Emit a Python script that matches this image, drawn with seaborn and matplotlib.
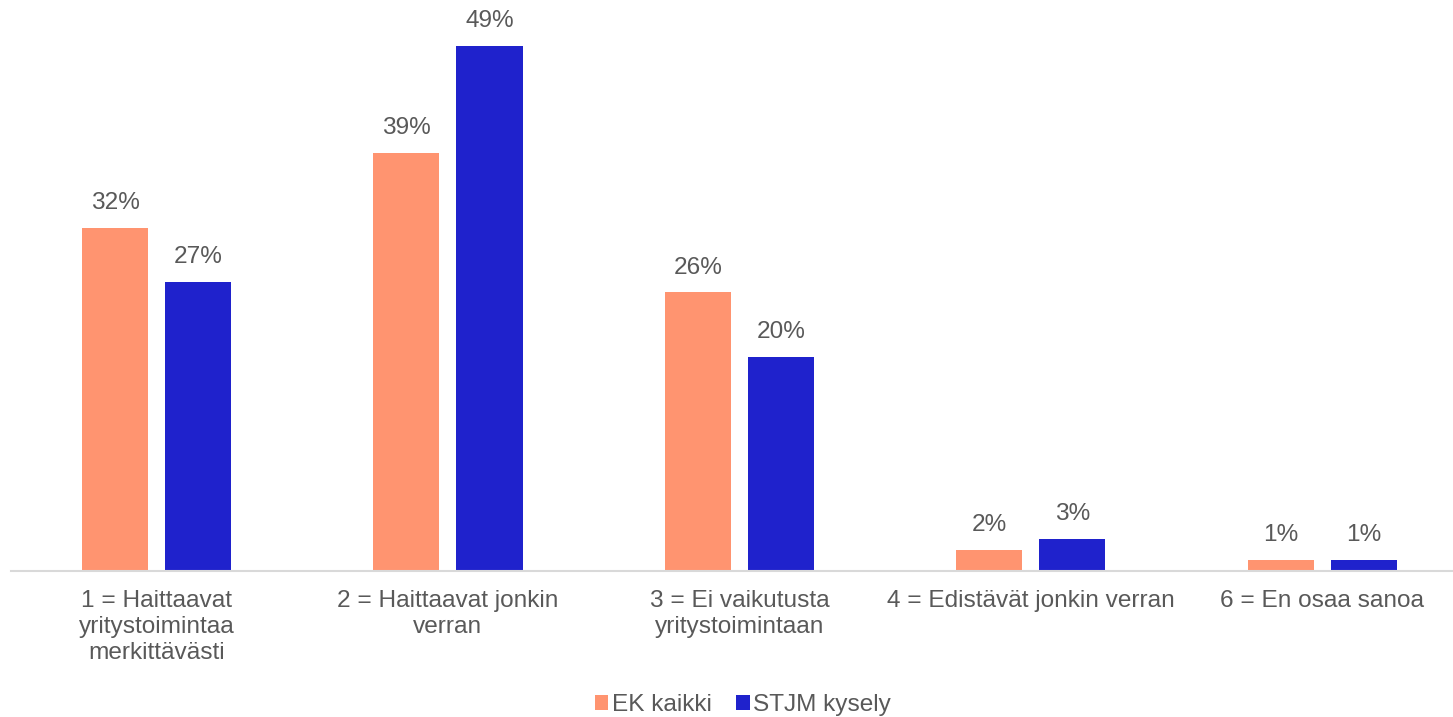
import pandas as pd
import numpy as np
import matplotlib.pyplot as plt
import seaborn as sns

# Data
categories = ['1 = Haittaavat\nyritystoimintaa\nmerkittävästi',
              '2 = Haittaavat jonkin\nverran',
              '3 = Ei vaikutusta\nyritystoimintaan',
              '4 = Edistävät jonkin verran',
              '6 = En osaa sanoa']
ek_kaikki = [32, 39, 26, 2, 1]
stjm_kysely = [27, 49, 20, 3, 1]
series = ['EK kaikki', 'STJM kysely']

df = pd.DataFrame({
    'category': categories * 2,
    'value': ek_kaikki + stjm_kysely,
    'series': [series[0]] * len(categories) + [series[1]] * len(categories),
})

sns.set_theme(style='white')
plt.rcParams['font.family'] = ['Liberation Sans', 'DejaVu Sans']
text_color = '#595959'
fs = 17.6

fig = plt.figure(figsize=(14.53, 7.17), dpi=100)
ax = fig.add_axes([0.0076, 0.2036, 0.9924, 0.7964])

sns.barplot(data=df, x='category', y='value', hue='series',
            palette=['#FF9470', '#1F22CC'], saturation=1, width=0.57, gap=0.205,
            linewidth=0, ax=ax, legend=True)

for c in ax.containers:
    ax.bar_label(c, labels=[f'{v:.0f}%' for v in c.datavalues],
                 padding=10, fontsize=fs, color=text_color)

ax.set_ylim(0, 53.3)
ax.set_xlim(-0.499, 4.448)
ax.set_xlabel('')
ax.set_ylabel('')
ax.set_yticks([])
for s in ['top', 'right', 'left']:
    ax.spines[s].set_visible(False)
ax.spines['bottom'].set_color('#d9d9d9')
ax.spines['bottom'].set_linewidth(1.5)
ax.tick_params(axis='x', length=0, pad=14, labelsize=fs, labelcolor=text_color)
for lbl in ax.get_xticklabels():
    lbl.set_linespacing(1.22)
    lbl.set_verticalalignment('top')

handles, labels = ax.get_legend_handles_labels()
ax.get_legend().remove()
fig.legend(handles, labels, loc='center', bbox_to_anchor=(743 / 1453, 1 - 705 / 717),
           ncol=2, frameon=False, fontsize=fs, labelcolor=text_color,
           handlelength=0.55, handleheight=0.55, handletextpad=0.15, columnspacing=1.0)

fig.savefig('out.png', dpi=100)
